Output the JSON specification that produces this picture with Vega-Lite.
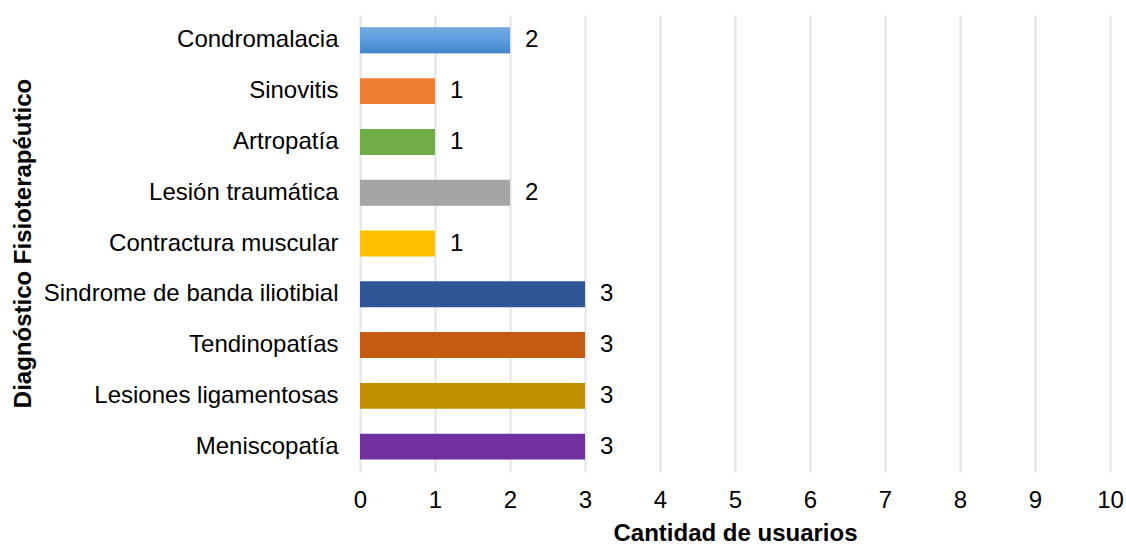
{
  "$schema": "https://vega.github.io/schema/vega-lite/v6.json",
  "width": 750,
  "height": 457,
  "autosize": "none",
  "padding": {"left": 360, "top": 15, "right": 16, "bottom": 72},
  "background": "white",
  "config": {
    "view": {"stroke": null},
    "font": "Liberation Sans"
  },
  "data": {
    "values": [
      {"diag": "Condromalacia", "n": 2},
      {"diag": "Sinovitis", "n": 1},
      {"diag": "Artropatía", "n": 1},
      {"diag": "Lesión traumática", "n": 2},
      {"diag": "Contractura muscular", "n": 1},
      {"diag": "Sindrome de banda iliotibial", "n": 3},
      {"diag": "Tendinopatías", "n": 3},
      {"diag": "Lesiones ligamentosas", "n": 3},
      {"diag": "Meniscopatía", "n": 3}
    ]
  },
  "encoding": {
    "y": {
      "field": "diag",
      "type": "nominal",
      "sort": null,
      "scale": {"paddingInner": 0.49, "paddingOuter": 0.245},
      "axis": {
        "title": "Diagnóstico Fisioterapéutico",
        "titleFont": "Liberation Sans",
        "titleFontSize": 24,
        "titleFontWeight": "bold",
        "titleColor": "#000000",
        "titleX": -325,
        "titleY": 228,
        "titleAnchor": null,
        "labelFont": "Liberation Sans",
        "labelFontSize": 24,
        "labelColor": "#000000",
        "labelPadding": 22,
        "labelLimit": 500,
        "ticks": false,
        "domain": false,
        "grid": false
      }
    },
    "x": {
      "field": "n",
      "type": "quantitative",
      "scale": {"domain": [0, 10], "nice": false},
      "axis": {
        "title": "Cantidad de usuarios",
        "titleFont": "Liberation Sans",
        "titleFontSize": 24,
        "titleFontWeight": "bold",
        "titleColor": "#000000",
        "titlePadding": 9,
        "labelFont": "Liberation Sans",
        "labelFontSize": 24,
        "labelColor": "#000000",
        "labelPadding": 16,
        "labelOverlap": false,
        "labelFlush": false,
        "values": [0, 1, 2, 3, 4, 5, 6, 7, 8, 9, 10],
        "ticks": false,
        "domain": false,
        "grid": true,
        "gridColor": "#dfe3ea",
        "gridWidth": 2
      }
    }
  },
  "layer": [
    {
      "mark": {"type": "bar"},
      "encoding": {
        "color": {
          "field": "diag",
          "type": "nominal",
          "sort": null,
          "legend": null,
          "scale": {
            "domain": ["Condromalacia", "Sinovitis", "Artropatía", "Lesión traumática", "Contractura muscular", "Sindrome de banda iliotibial", "Tendinopatías", "Lesiones ligamentosas", "Meniscopatía"],
            "range": ["#5b9bd5", "#ed7d31", "#70ad47", "#a5a5a5", "#ffc000", "#2f5597", "#c55a11", "#bf9000", "#7030a0"]
          }
        }
      }
    },
    {
      "transform": [{"filter": "datum.diag === 'Condromalacia'"}],
      "mark": {
        "type": "bar",
        "color": {
          "gradient": "linear",
          "x1": 0, "y1": 0, "x2": 0, "y2": 1,
          "stops": [
            {"offset": 0, "color": "#74a9de"},
            {"offset": 0.5, "color": "#5a9ddf"},
            {"offset": 1, "color": "#4485c8"}
          ]
        }
      }
    },
    {
      "mark": {"type": "text", "align": "left", "dx": 15, "fontSize": 24, "font": "Liberation Sans", "color": "#000000"},
      "encoding": {"text": {"field": "n", "type": "quantitative"}}
    }
  ]
}
